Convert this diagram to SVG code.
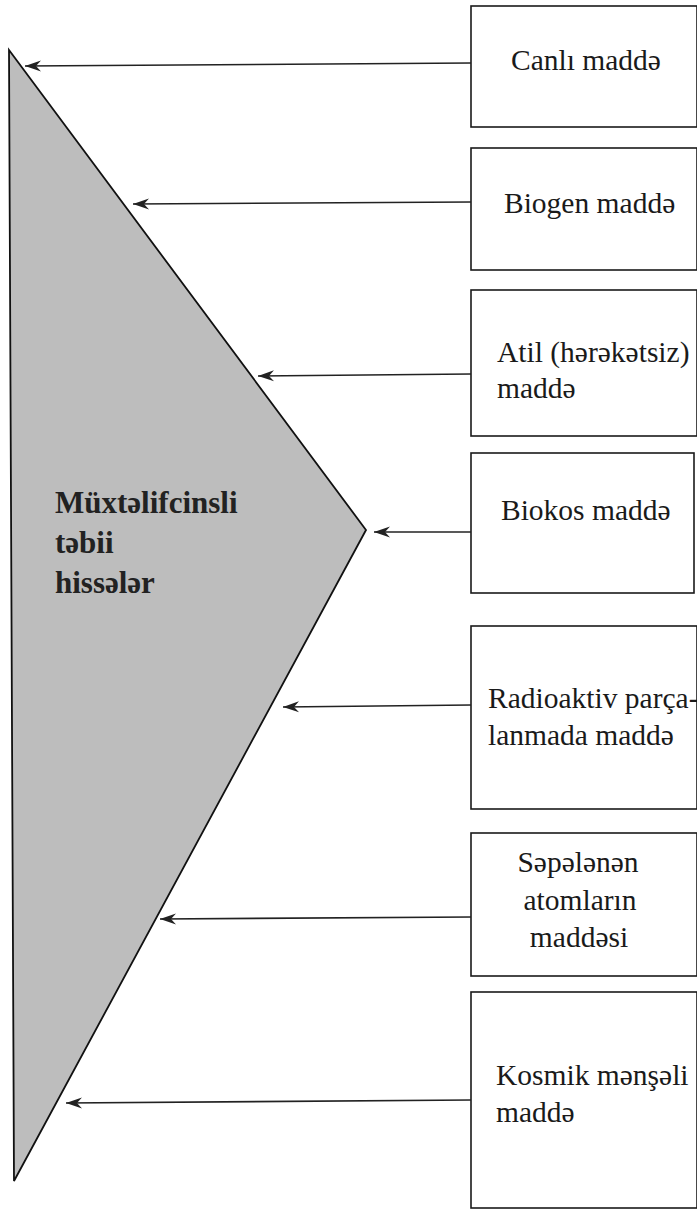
<svg xmlns="http://www.w3.org/2000/svg" width="697" height="1210" viewBox="0 0 697 1210">
  <style>
    .box { fill: #ffffff; stroke: #1a1a1a; stroke-width: 1.6; }
    .lbl { font-family: 'Liberation Serif', 'Times New Roman', 'DejaVu Serif', serif; font-size: 29.5px; fill: #1a1a1a; }
    .ctr { text-anchor: middle; }
    .main { font-family: 'Liberation Serif', 'Times New Roman', 'DejaVu Serif', serif; font-size: 31px; font-weight: bold; fill: #222222; }
    .arrow { stroke: #222222; stroke-width: 1.6; fill: none; marker-end: url(#head); }
  </style>
  <defs>
    <marker id="head" markerUnits="userSpaceOnUse" markerWidth="18" markerHeight="14" refX="16" refY="7" orient="auto" overflow="visible">
      <path d="M16,7 L0,1.5 L5,7 L0,12.5 Z" fill="#222222" stroke="none"/>
    </marker>
  </defs>
  <rect width="697" height="1210" fill="#ffffff"/>

  <!-- central wedge -->
  <g id="wedge">
    <polygon points="9,50 366,530 14,1181" fill="#bdbdbd" stroke="#111111" stroke-width="1.8" stroke-linejoin="miter"/>
    <text class="main" x="55" y="513">Müxtəlifcinsli</text>
    <text class="main" x="55" y="553">təbii</text>
    <text class="main" x="55" y="593">hissələr</text>
  </g>

  <!-- source boxes -->
  <g id="canli">
    <rect class="box" x="471" y="6" width="226" height="121"/>
    <text class="lbl" x="511" y="70">Canlı maddə</text>
  </g>
  <g id="biogen">
    <rect class="box" x="471" y="148" width="226" height="122"/>
    <text class="lbl" x="504" y="213">Biogen maddə</text>
  </g>
  <g id="atil">
    <rect class="box" x="471" y="290" width="226" height="146"/>
    <text class="lbl" x="497" y="362">Atil (hərəkətsiz)</text>
    <text class="lbl" x="497" y="398">maddə</text>
  </g>
  <g id="biokos">
    <rect class="box" x="471" y="453" width="223" height="140"/>
    <text class="lbl" x="501" y="520">Biokos maddə</text>
  </g>
  <g id="radioaktiv">
    <rect class="box" x="471" y="626" width="226" height="183"/>
    <text class="lbl" x="488" y="708">Radioaktiv parça-</text>
    <text class="lbl" x="488" y="745">lanmada maddə</text>
  </g>
  <g id="sepelenen">
    <rect class="box" x="471" y="833" width="226" height="143"/>
    <text class="lbl ctr" x="578" y="872">Səpələnən</text>
    <text class="lbl ctr" x="580" y="910">atomların</text>
    <text class="lbl ctr" x="579" y="947">maddəsi</text>
  </g>
  <g id="kosmik">
    <rect class="box" x="471" y="992" width="226" height="216"/>
    <text class="lbl" x="496" y="1085">Kosmik mənşəli</text>
    <text class="lbl" x="496" y="1122">maddə</text>
  </g>

  <!-- connectors: box → wedge -->
  <g id="connectors">
    <path class="arrow" d="M471,63 L25,66"/>
    <path class="arrow" d="M471,202 L133,204"/>
    <path class="arrow" d="M471,374 L258,376"/>
    <path class="arrow" d="M471,532 L374,532"/>
    <path class="arrow" d="M471,705 L283,707"/>
    <path class="arrow" d="M471,917 L160,919"/>
    <path class="arrow" d="M471,1100 L66,1103"/>
  </g>
</svg>
